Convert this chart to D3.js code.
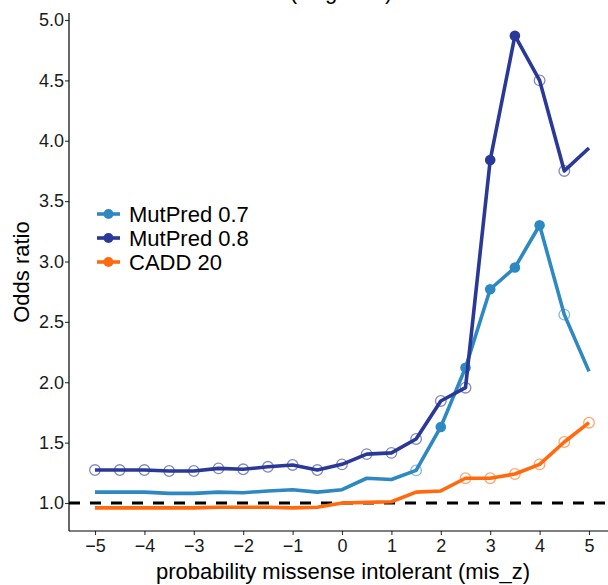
<!DOCTYPE html>
<html>
<head>
<meta charset="utf-8">
<script src="https://cdn.jsdelivr.net/npm/d3@7"></script>
<style>
  body { margin: 0; background: #fff; }
  svg { font-family: "Liberation Sans", Arial, sans-serif; }
</style>
</head>
<body>
<div id="chart"></div>
<script>
// mis_z bins
const misZ = [-5, -4.5, -4, -3.5, -3, -2.5, -2, -1.5, -1, -0.5, 0, 0.5, 1, 1.5, 2, 2.5, 3, 3.5, 4, 4.5, 5];

// odds ratios per series
const mutpred07 = [1.09, 1.09, 1.09, 1.08, 1.08, 1.09, 1.085, 1.10, 1.11, 1.09, 1.11, 1.205, 1.195, 1.27, 1.63, 2.12, 2.77, 2.95, 3.30, 2.56, 2.09];
const mutpred08 = [1.273, 1.273, 1.273, 1.265, 1.265, 1.287, 1.279, 1.30, 1.315, 1.273, 1.32, 1.405, 1.415, 1.53, 1.845, 1.955, 3.84, 4.87, 4.50, 3.75, 3.94];
const cadd20    = [0.96, 0.96, 0.96, 0.96, 0.96, 0.965, 0.965, 0.965, 0.96, 0.965, 1.0, 1.005, 1.01, 1.09, 1.10, 1.205, 1.205, 1.24, 1.32, 1.505, 1.665];

// point markers: "f" filled, "o" open, "" none
const mark07 = ["", "", "", "", "", "", "", "", "", "", "", "", "", "o", "f", "f", "f", "f", "f", "o", ""];
const mark08 = ["o", "o", "o", "o", "o", "o", "o", "o", "o", "o", "o", "o", "o", "o", "o", "o", "f", "f", "o", "o", ""];
const markCadd = ["", "", "", "", "", "", "", "", "", "", "", "", "", "", "", "o", "o", "o", "o", "o", "o"];

const seriesNames = ["MutPred 0.7", "MutPred 0.8", "CADD 20"];
const seriesColors = ["#2E89C3", "#2A3897", "#FF6A0E"];

const yTicks = [1.0, 1.5, 2.0, 2.5, 3.0, 3.5, 4.0, 4.5, 5.0];
const xTicks = [-5, -4, -3, -2, -1, 0, 1, 2, 3, 4, 5];

const W = 608, H = 585;
const panel = {left: 69, right: 608, top: 13, bottom: 531};

const svg = d3.select("#chart").append("svg")
    .attr("width", W)
    .attr("height", H);

const x = d3.scaleLinear().domain([-5, 5]).range([95, 589]);
const y = d3.scaleLinear().domain([1, 5]).range([503, 20]);

// title, mostly cut off at the top of the image
svg.append("text")
    .attr("x", 341)
    .attr("y", -1)
    .attr("text-anchor", "middle")
    .attr("font-size", 22)
    .text("(all genes)");

// reference line at OR = 1
svg.append("line")
    .attr("x1", panel.left).attr("x2", panel.right)
    .attr("y1", y(1)).attr("y2", y(1))
    .attr("stroke", "#000")
    .attr("stroke-width", 3)
    .attr("stroke-dasharray", "11,10");

const series = [
    {name: seriesNames[0], color: seriesColors[0], values: mutpred07, marks: mark07},
    {name: seriesNames[1], color: seriesColors[1], values: mutpred08, marks: mark08},
    {name: seriesNames[2], color: seriesColors[2], values: cadd20, marks: markCadd}
];

const line = d3.line()
    .x(d => x(d[0]))
    .y(d => y(d[1]));

// draw CADD first, then MutPred 0.7, then 0.8 on top
[2, 0, 1].forEach(i => {
    const s = series[i];
    const pts = misZ.map((m, j) => [m, s.values[j], s.marks[j]]);
    svg.append("path")
        .datum(pts)
        .attr("fill", "none")
        .attr("stroke", s.color)
        .attr("stroke-width", 3.6)
        .attr("stroke-linejoin", "round")
        .attr("d", line);

    svg.selectAll(null)
        .data(pts.filter(d => d[2] === "f"))
        .enter()
        .append("circle")
        .attr("cx", d => x(d[0]))
        .attr("cy", d => y(d[1]))
        .attr("r", 5.3)
        .attr("fill", s.color);

    svg.selectAll(null)
        .data(pts.filter(d => d[2] === "o"))
        .enter()
        .append("circle")
        .attr("cx", d => x(d[0]))
        .attr("cy", d => y(d[1]))
        .attr("r", 5.3)
        .attr("fill", "none")
        .attr("stroke", s.color)
        .attr("stroke-opacity", 0.6)
        .attr("stroke-width", 1.3);
});

// axes
const yAxis = svg.append("g")
    .attr("transform", "translate(" + panel.left + ",0)")
    .call(d3.axisLeft(y).tickValues(yTicks).tickFormat(d3.format(".1f")).tickSize(4).tickSizeOuter(0));
yAxis.select(".domain").remove();
yAxis.append("line")
    .attr("y1", panel.top).attr("y2", panel.bottom)
    .attr("stroke", "#000").attr("stroke-width", 1.2);

const xAxis = svg.append("g")
    .attr("transform", "translate(0," + panel.bottom + ")")
    .call(d3.axisBottom(x).tickValues(xTicks).tickFormat(d => d3.format("")(d).replace("-", "\u2212")).tickSize(4).tickSizeOuter(0));
xAxis.select(".domain").remove();
xAxis.append("line")
    .attr("x1", panel.left).attr("x2", panel.right)
    .attr("stroke", "#000").attr("stroke-width", 1.2);

svg.selectAll(".tick line").attr("stroke", "#333").attr("stroke-width", 1.1);
svg.selectAll(".tick text")
    .attr("font-size", 18)
    .attr("font-family", "Liberation Sans, Arial, sans-serif")
    .attr("fill", "#1a1a1a");
yAxis.selectAll(".tick text").attr("x", -5);
xAxis.selectAll(".tick text").attr("y", 8);

// axis titles
svg.append("text")
    .attr("x", 343)
    .attr("y", 579)
    .attr("text-anchor", "middle")
    .attr("font-size", 22)
    .text("probability missense intolerant (mis_z)");

svg.append("text")
    .attr("transform", "translate(29,272) rotate(-90)")
    .attr("text-anchor", "middle")
    .attr("font-size", 22)
    .text("Odds ratio");

// legend
const legend = svg.append("g");
series.forEach((s, i) => {
    const ly = 214 + i * 24;
    legend.append("line")
        .attr("x1", 97).attr("x2", 120)
        .attr("y1", ly).attr("y2", ly)
        .attr("stroke", s.color).attr("stroke-width", 3.6);
    legend.append("circle")
        .attr("cx", 108.5).attr("cy", ly).attr("r", 5)
        .attr("fill", s.color);
    legend.append("text")
        .attr("x", 129)
        .attr("y", ly)
        .attr("dy", "0.36em")
        .attr("font-size", 22)
        .text(s.name);
});
</script>
</body>
</html>
